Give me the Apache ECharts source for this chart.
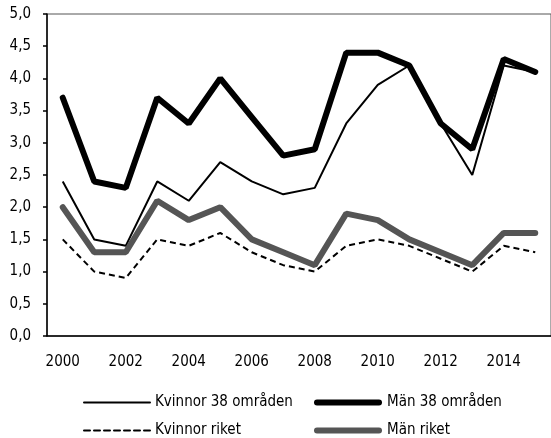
<!DOCTYPE html>
<html>
<head>
<meta charset="utf-8">
<script src="https://cdn.jsdelivr.net/npm/echarts@6/dist/echarts.min.js"></script>
<style>
  html, body { margin: 0; padding: 0; background: #fff; }
  #main { width: 551px; height: 438px; }
</style>
</head>
<body>
<div id="main"></div>
<script>
var years = ['2000','2001','2002','2003','2004','2005','2006','2007','2008','2009','2010','2011','2012','2013','2014','2015'];
var kvinnor38 = [2.4, 1.5, 1.4, 2.4, 2.1, 2.7, 2.4, 2.2, 2.3, 3.3, 3.9, 4.2, 3.3, 2.5, 4.2, 4.1];
var man38 = [3.7, 2.4, 2.3, 3.7, 3.3, 4.0, 3.4, 2.8, 2.9, 4.4, 4.4, 4.2, 3.3, 2.9, 4.3, 4.1];
var kvinnorRiket = [1.5, 1.0, 0.9, 1.5, 1.4, 1.6, 1.3, 1.1, 1.0, 1.4, 1.5, 1.4, 1.2, 1.0, 1.4, 1.3];
var manRiket = [2.0, 1.3, 1.3, 2.1, 1.8, 2.0, 1.5, 1.3, 1.1, 1.9, 1.8, 1.5, 1.3, 1.1, 1.6, 1.6];

var font = '"DejaVu Sans Condensed", "Liberation Sans Narrow", sans-serif';
var myChart = echarts.init(document.getElementById('main'));

var legendBase = {
    orient: 'vertical', top: 395, padding: 0,
    itemHeight: 14, itemGap: 13,
    itemStyle: { opacity: 0 },
    lineStyle: { width: 'inherit', cap: 'round' },
    textStyle: { fontFamily: font, fontSize: 15, color: '#000' }
};

var option = {
    animation: false,
    grid: {
        left: 47, top: 14, bottom: 102, right: -6,
        show: true, borderColor: '#555', borderWidth: 1
    },
    legend: [
        Object.assign({}, legendBase, { left: 83, itemWidth: 66, data: ['Kvinnor 38 områden', 'Kvinnor riket'] }),
        Object.assign({}, legendBase, { left: 314, itemWidth: 62, textStyle: { fontFamily: font, fontSize: 15, color: '#000', padding: [0, 0, 0, 3] }, data: ['Män 38 områden', 'Män riket'] })
    ],
    xAxis: [{
        type: 'category',
        data: years,
        boundaryGap: true,
        axisLine: { lineStyle: { color: '#000', width: 1.5 } },
        axisTick: { interval: 0, length: 6, lineStyle: { color: '#000', width: 1.5 } },
        axisLabel: { interval: 1, margin: 19, fontFamily: font, fontSize: 15, color: '#000' }
    }, {
        type: 'category',
        data: years,
        position: 'bottom',
        boundaryGap: true,
        axisLine: { show: false },
        axisTick: { inside: true, interval: 0, length: 5, lineStyle: { color: '#000', width: 1.5 } },
        axisLabel: { show: false }
    }],
    yAxis: {
        type: 'value',
        min: 0, max: 5, interval: 0.5,
        splitLine: { show: false },
        axisLine: { show: true, lineStyle: { color: '#000', width: 1.5 } },
        axisTick: { show: true, length: 4, lineStyle: { color: '#000', width: 1.5 } },
        axisLabel: {
            margin: 16, fontFamily: font, fontSize: 15, color: '#000',
            formatter: function (v) { return v.toFixed(1).replace('.', ','); }
        }
    },
    series: [{
        name: 'Kvinnor 38 områden', type: 'line', data: kvinnor38,
        symbol: 'none', color: '#000',
        lineStyle: { color: '#000', width: 2 }
    }, {
        name: 'Män 38 områden', type: 'line', data: man38,
        symbol: 'none', color: '#000',
        lineStyle: { color: '#000', width: 6, cap: 'round' }
    }, {
        name: 'Kvinnor riket', type: 'line', data: kvinnorRiket,
        symbol: 'none', color: '#000',
        lineStyle: { color: '#000', width: 2, type: [6, 4] }
    }, {
        name: 'Män riket', type: 'line', data: manRiket,
        symbol: 'none', color: '#555',
        lineStyle: { color: '#555', width: 6, cap: 'round' }
    }]
};

myChart.setOption(option);
</script>
</body>
</html>
